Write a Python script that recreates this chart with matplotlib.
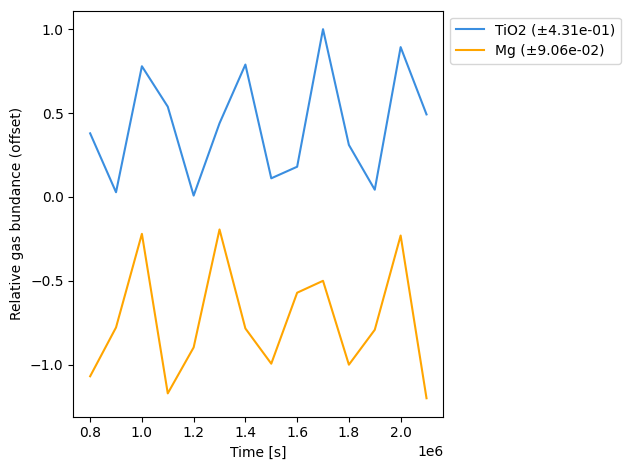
import numpy as np
import matplotlib
matplotlib.use('Agg')
import matplotlib.pyplot as plt

time = [0.8e6, 0.9e6, 1.0e6, 1.1e6, 1.2e6, 1.3e6, 1.4e6,
        1.5e6, 1.6e6, 1.7e6, 1.8e6, 1.9e6, 2.0e6, 2.1e6]
tio2 = [0.379, 0.028, 0.779, 0.538, 0.008, 0.439, 0.789,
        0.111, 0.180, 1.0, 0.310, 0.043, 0.893, 0.492]
mg = [-1.069, -0.778, -0.220, -1.171, -0.897, -0.194, -0.784,
      -0.994, -0.571, -0.500, -1.0, -0.792, -0.230, -1.200]
labels = ['TiO2 (±4.31e-01)', 'Mg (±9.06e-02)']

fig, ax = plt.subplots(figsize=(6.3, 4.7), dpi=100)
ax.plot(time, tio2, color='#3a8ee0', label=labels[0])
ax.plot(time, mg, color='orange', label=labels[1])
ax.set_xlabel('Time [s]')
ax.set_ylabel('Relative gas bundance (offset)')
ax.legend(loc='upper left', bbox_to_anchor=(1, 1))
# axes placement
fig.subplots_adjust(left=0.1164, right=0.7037, top=0.9772, bottom=0.1134)
fig.savefig('out.png')
